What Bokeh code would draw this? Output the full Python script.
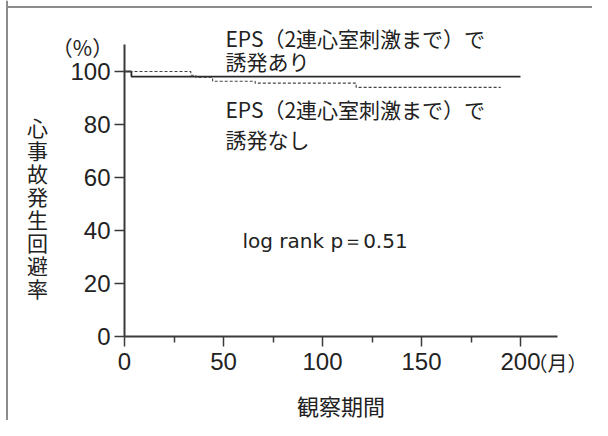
from bokeh.plotting import figure
from bokeh.models import Range1d, FixedTicker, Label, Span, BoxAnnotation
from bokeh.embed import file_html
from bokeh.resources import INLINE

# data
x_ticks = [0, 50, 100, 150, 200]
x_minor = [25, 75, 125, 175]
y_ticks = [0, 20, 40, 60, 80, 100]
induced_time = [0, 3.5, 200]
induced_surv = [100, 98.1, 98.1]
noninduced_time = [0, 33.5, 36, 44.5, 66, 117, 190]
noninduced_surv = [100, 98.6, 97.8, 96.3, 95.6, 94.0, 94.0]
y_title = "心事故発生回避率"
x_title = "観察期間"
label_induced = ["EPS（2連心室刺激まで）で", "誘発あり"]
label_noninduced = ["EPS（2連心室刺激まで）で", "誘発なし"]
stat_text = "log rank p＝0.51"
y_unit = "（%）"
x_unit = "（月）"

JP = "Noto Sans CJK JP"
NUM = "Liberation Sans"
TXT = "#222222"
AX = "#3a3a3a"

# pixel scale of the chart
X0, SX = 124, 1.98      # canvas x of value 0, px per month
Y0, SY = 336, 2.65      # canvas y of value 0, px per percent
W, H = 592, 420

p = figure(width=W, height=H, output_backend="svg", toolbar_location=None,
           x_range=Range1d(-X0 / SX, (W - X0) / SX),
           y_range=Range1d(-(H - Y0) / SY, Y0 / SY),
           min_border_left=0, min_border_right=0,
           min_border_top=0, min_border_bottom=0)
p.outline_line_color = None
p.xgrid.visible = False
p.ygrid.visible = False
p.background_fill_color = "white"
p.border_fill_color = "white"

xa = p.xaxis[0]
xa.fixed_location = 0
xa.bounds = (0, 218.7)
xa.ticker = FixedTicker(ticks=x_ticks, minor_ticks=x_minor)
xa.major_tick_in = 0
xa.major_tick_out = 10
xa.minor_tick_in = 0
xa.minor_tick_out = 6
xa.axis_line_width = 2
xa.major_tick_line_width = 1.5
xa.minor_tick_line_width = 1.5
xa.axis_line_color = AX
xa.major_tick_line_color = AX
xa.minor_tick_line_color = AX
xa.major_label_text_font = NUM
xa.major_label_text_font_size = "24px"
xa.major_label_text_color = TXT
xa.major_label_standoff = 6
xa.axis_label = x_title
xa.axis_label_text_font = JP
xa.axis_label_text_font_size = "22px"
xa.axis_label_text_font_style = "normal"
xa.axis_label_text_color = TXT
xa.axis_label_standoff = 16

ya = p.yaxis[0]
ya.fixed_location = 0
ya.bounds = (0, 110.2)
ya.ticker = FixedTicker(ticks=y_ticks, minor_ticks=[])
ya.major_tick_in = 0
ya.major_tick_out = 10
ya.axis_line_width = 2
ya.major_tick_line_width = 1.5
ya.axis_line_color = AX
ya.major_tick_line_color = AX
ya.major_label_text_font = NUM
ya.major_label_text_font_size = "24px"
ya.major_label_text_color = TXT
ya.major_label_standoff = 4

# outer frame of the figure box (top and left edges; right/bottom lie beyond the picture)
BORDER = "#8c8c8c"
p.add_layout(BoxAnnotation(left=(5.5 - X0) / SX, right=(W + 20 - X0) / SX,
                           top=(Y0 - 5.5) / SY, bottom=(Y0 - 7.5) / SY,
                           fill_color=BORDER, fill_alpha=1, line_alpha=0,
                           level="overlay"))
p.add_layout(Span(location=(6.5 - X0) / SX, dimension="height", line_color=BORDER,
                  line_width=2, level="overlay"))

p.step(induced_time, induced_surv, mode="after", line_color="#2a2a2a", line_width=1.8)
p.step(noninduced_time, noninduced_surv, mode="after", line_color="#444444",
       line_width=1.1, line_dash="3 2")


def lab(x, y, t, font=JP, size="21px", align="left"):
    p.add_layout(Label(x=x, y=y, text=t, text_font=font, text_font_size=size,
                       text_color=TXT, text_align=align, text_baseline="middle"))


lab(51, 112.8, label_induced[0])
lab(51, 103.8, label_induced[1])
lab(51, 85.7, label_noninduced[0])
lab(51, 74.7, label_noninduced[1])
lab(59.6, 36.2, stat_text, font="DejaVu Sans", size="20px")
lab(-21.2, 109.4, y_unit, align="center")
lab(203.5, -9.8, x_unit, size="20px")
for i, ch in enumerate(y_title):
    lab(-44, (Y0 - (126 + 23.0 * i)) / SY, ch, align="center")

open("out.html", "w").write(file_html(p, INLINE))
